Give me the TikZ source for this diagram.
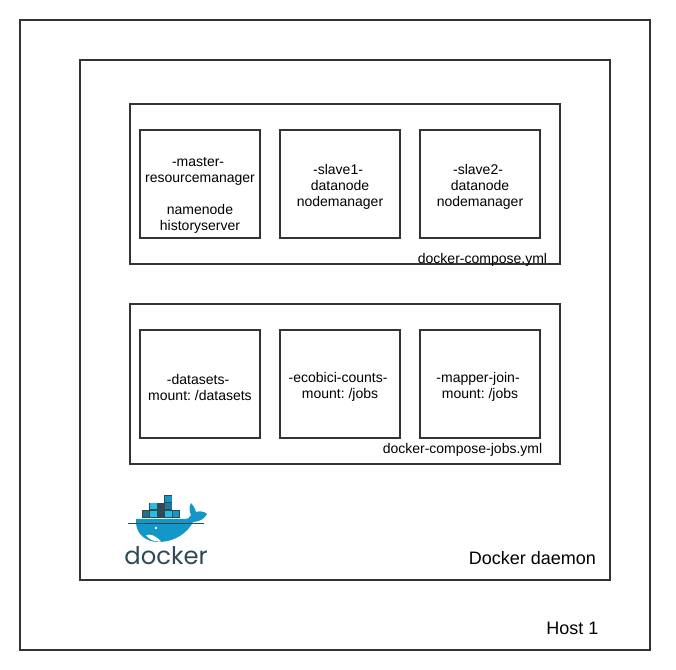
\documentclass[tikz,border=0pt]{standalone}
\usepackage{fontspec}
\setmainfont{Liberation Sans}
\newfontfamily\logofont{Poppins}
\usepackage{tikz}
\usetikzlibrary{calc}
\newcommand{\trailgap}{\kern2.9pt}
\begin{document}
\begin{tikzpicture}[x=0.75pt,y=-0.75pt]
    \tikzset{frame/.style={draw=black!80,line width=1.5pt,minimum width=#1*0.75pt,anchor=north west,inner sep=0pt,outer sep=0pt}}
    \tikzset{container/.style={frame=120,minimum height=81pt}}
    \tikzset{boxtext/.style={align=center,inner sep=0pt,yshift=-2.25pt,font=\frenchspacing\fontsize{10.5pt}{12pt}\selectfont}}
    \tikzset{caption/.style={font=\fontsize{10.5pt}{12pt}\selectfont,inner sep=0pt}}
    \definecolor{dockerblue}{HTML}{1396C8}
    \definecolor{dockerlight}{HTML}{23BDE8}
    \definecolor{dockerdark}{HTML}{2F4A55}

    \useasboundingbox (0,0) rectangle (676,670);

    %frames
    \node[frame=630,minimum height=472.5pt] (host) at (20,20){};
    \node[frame=530,minimum height=390pt] (daemon) at (80,60){};
    \node[frame=430,minimum height=120pt] (compose) at (130,104){};
    \node[frame=430,minimum height=120pt] (jobs) at (130,304){};

    %first row
    \node[container,label={[name=master_text,boxtext,yshift=-6pt]center:{-master-\trailgap\\resourcemanager\\[12pt]namenode\\historyserver}}] (master) at (140,130){};
    \node[container,label={[name=slave1_text,boxtext]center:{-slave1-\trailgap\\datanode\\nodemanager}}] (slave1) at (280,130){};
    \node[container,label={[name=slave2_text,boxtext]center:{-slave2-\trailgap\\datanode\\nodemanager}}] (slave2) at (420,130){};

    %second row
    \node[container,label={[name=datasets_text,boxtext]center:{-datasets-\trailgap\\mount: /datasets}}] (datasets) at (140,330){};
    \node[container,label={[name=ecobici_text,boxtext]center:{-ecobici-counts-\trailgap\\mount: /jobs}}] (ecobici) at (280,330){};
    \node[container,label={[name=mapper_text,boxtext]center:{-mapper-join-\trailgap\\mount: /jobs}}] (mapper) at (420,330){};

    %captions
    \node[caption] (compose_label) at (482.5,259.5){docker-compose.yml};
    \node[caption] (jobs_label) at (462.5,449.5){docker-compose-jobs.yml};
    \node[caption,font=\fontsize{13.5pt}{15pt}\selectfont] (daemon_label) at (532.5,558){Docker daemon};
    \node[caption,font=\fontsize{13.5pt}{15pt}\selectfont] (host_label) at (572.5,628){Host 1};

    %logo containers
    \fill[dockerdark] (142,510) rectangle (180,518);
    \fill[dockerdark] (149,503) rectangle (172,510);
    \fill[dockerdark] (164,495) rectangle (172,503);
    \fill[dockerlight] (150,503.5) rectangle (157,509.5);
    \fill[dockerblue] (165,496) rectangle (171.5,502.5);
    \fill[dockerblue!60!dockerdark] (165,503.5) rectangle (171.5,509.5);
    \fill[dockerlight] (150,511) rectangle (157,517.5);
    \fill[dockerlight] (165,511) rectangle (171.5,517.5);
    \fill[dockerblue!50!dockerdark] (143,511) rectangle (149,517.5);
    \fill[dockerblue] (172.5,511) rectangle (179,517.5);

    %logo whale
    \fill[dockerblue] (136,522) .. controls (136,534) and (146,542) .. (158,542)
        .. controls (176,542) and (188,532) .. (193,522)
        .. controls (200,522) and (205,518) .. (207,514)
        .. controls (204,511) and (199,511) .. (196,512)
        .. controls (195,508) and (193,505) .. (191,503)
        .. controls (189,507) and (189,511) .. (191,515)
        .. controls (190,518) and (188,519) .. (183,519)
        -- (136,519) -- cycle;
    \fill[white] (146,535.5) .. controls (150,533) and (156,536) .. (161,541.5)
        .. controls (153,542) and (149,539) .. (146,535.5) -- cycle;
    \fill[white] (156,528) circle (1pt);
    \draw[dockerdark,line width=0.6pt] (128,523) -- (204,523);

    %logo text
    \node[inner sep=0pt,text=dockerdark,font=\logofont\fontsize{18.2pt}{20pt}\selectfont] (logo_label) at (166,556){docker};
\end{tikzpicture}
\end{document}
